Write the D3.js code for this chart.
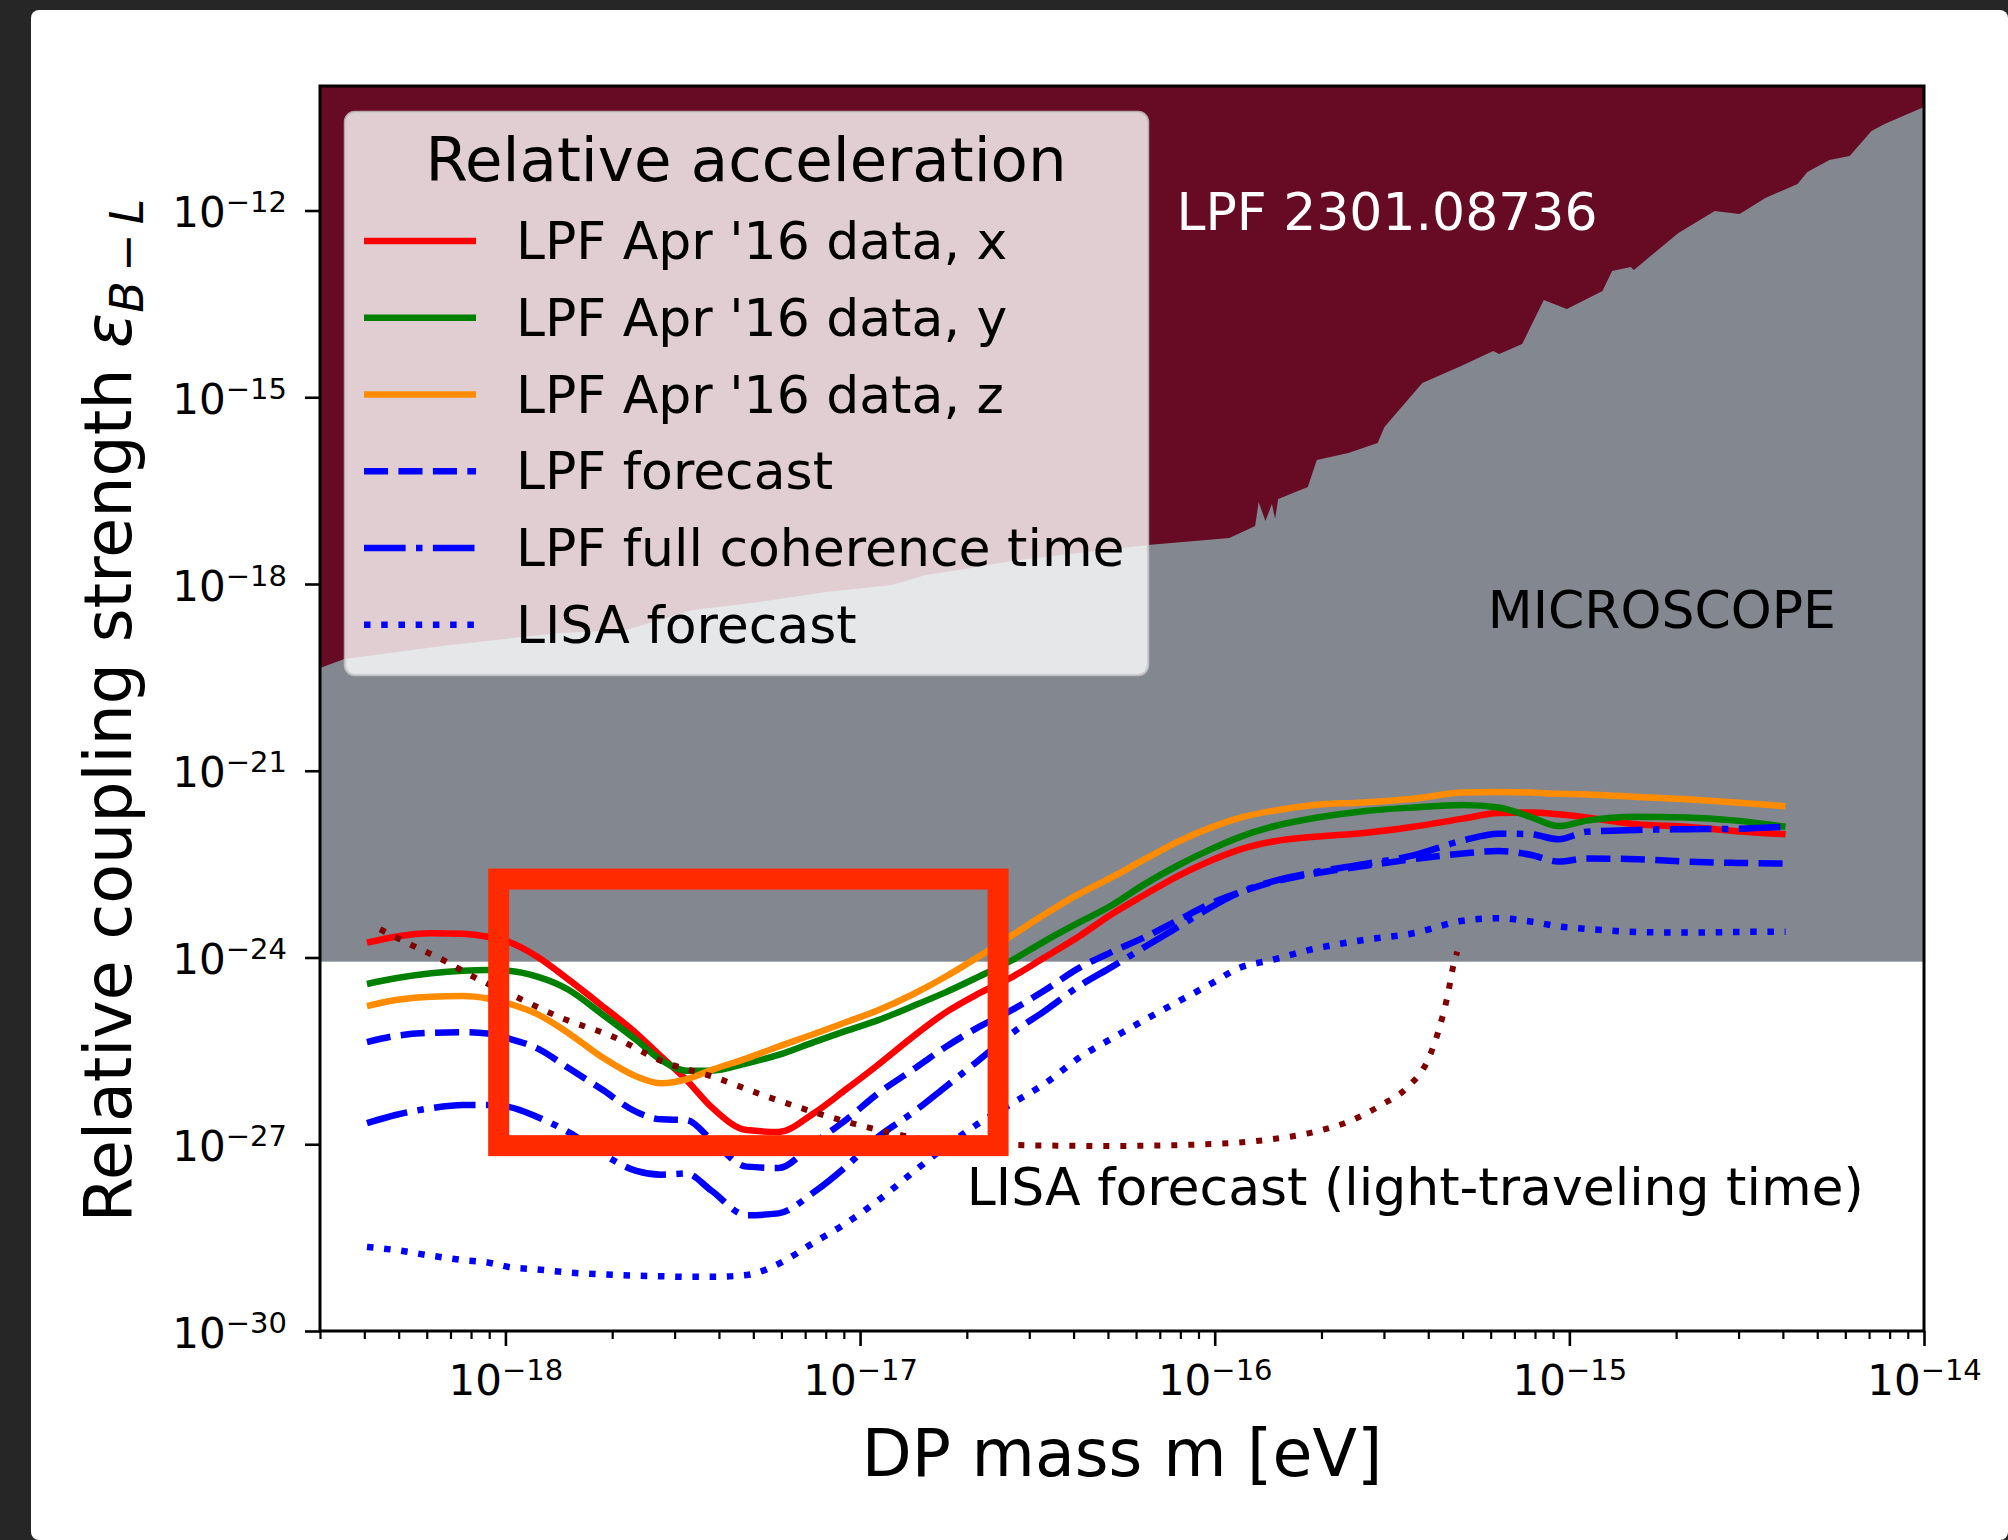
<!DOCTYPE html>
<html>
<head>
<meta charset="utf-8">
<script src="https://cdn.jsdelivr.net/npm/d3@7"></script>
<style>
body { margin: 0; background: #262626; }
text { font-family: "DejaVu Sans", sans-serif; }
</style>
</head>
<body>
<svg id="chart" width="2008" height="1540"></svg>
<script>
// mass grid shared by the LPF / LISA curves [eV]
var massGrid = [4.07e-19, 4.90e-19, 6.17e-19, 7.59e-19, 8.91e-19, 1.02e-18, 1.23e-18, 1.51e-18, 1.86e-18, 2.34e-18,
    2.75e-18, 3.24e-18, 3.80e-18, 4.79e-18, 5.89e-18, 7.41e-18, 9.12e-18, 1.12e-17, 1.41e-17, 1.74e-17,
    2.14e-17, 2.69e-17, 3.31e-17, 4.17e-17, 5.13e-17, 6.31e-17, 7.94e-17, 9.77e-17, 1.17e-16, 1.45e-16,
    1.91e-16, 2.63e-16, 3.63e-16, 5.01e-16, 6.31e-16, 7.76e-16, 9.33e-16, 1.12e-15, 1.55e-15, 2.14e-15,
    2.95e-15, 4.07e-15];

var lpfX = [1.73e-24, 2.16e-24, 2.45e-24, 2.40e-24, 2.16e-24, 1.79e-24, 1.03e-24, 4.36e-25, 1.73e-25, 6.05e-26,
    2.55e-26, 1.08e-26, 4.01e-27, 1.69e-27, 1.58e-27, 3.16e-27, 7.59e-27, 1.86e-26, 5.37e-26, 1.30e-25,
    2.57e-25, 4.90e-25, 1.0e-24, 2.24e-24, 5.01e-24, 1.0e-23, 2.09e-23, 3.63e-23, 5.37e-23, 7.24e-23,
    8.71e-23, 1.0e-22, 1.26e-22, 1.70e-22, 2.09e-22, 2.14e-22, 2.00e-22, 1.78e-22, 1.38e-22, 1.26e-22,
    1.07e-22, 9.55e-23];

var lpfY = [3.75e-25, 4.63e-25, 5.57e-25, 6.14e-25, 6.29e-25, 6.14e-25, 4.92e-25, 3.01e-25, 1.27e-25, 4.73e-26,
    2.25e-26, 1.52e-26, 1.52e-26, 2.0e-26, 2.72e-26, 4.37e-26, 6.61e-26, 9.77e-26, 1.66e-25, 2.75e-25,
    4.79e-25, 9.12e-25, 1.82e-24, 3.72e-24, 6.92e-24, 1.48e-23, 3.09e-23, 5.50e-23, 8.51e-23, 1.26e-22,
    1.74e-22, 2.24e-22, 2.57e-22, 2.82e-22, 2.57e-22, 1.82e-22, 1.29e-22, 1.58e-22, 1.82e-22, 1.78e-22,
    1.58e-22, 1.26e-22];

var lpfZ = [1.66e-25, 2.07e-25, 2.34e-25, 2.40e-25, 2.19e-25, 1.82e-25, 1.23e-25, 6.03e-26, 2.57e-26, 1.23e-26,
    9.55e-27, 1.10e-26, 1.55e-26, 2.40e-26, 3.72e-26, 5.89e-26, 9.12e-26, 1.41e-25, 2.57e-25, 4.90e-25,
    1.0e-24, 2.29e-24, 4.90e-24, 1.07e-23, 1.95e-23, 3.72e-23, 7.41e-23, 1.23e-22, 1.74e-22, 2.26e-22,
    2.82e-22, 3.09e-22, 3.55e-22, 4.47e-22, 4.57e-22, 4.47e-22, 4.27e-22, 4.17e-22, 3.80e-22, 3.47e-22,
    3.09e-22, 2.69e-22];

var lpfForecast = [4.37e-26, 5.50e-26, 6.17e-26, 6.31e-26, 6.03e-26, 5.01e-26, 3.47e-26, 1.66e-26, 7.76e-27, 3.31e-27,
    2.51e-27, 2.45e-27, 1.20e-27, 4.37e-28, 4.17e-28, 1.05e-27, 2.45e-27, 6.46e-27, 1.58e-26, 3.63e-26,
    7.41e-26, 1.45e-25, 2.95e-25, 6.92e-25, 1.23e-24, 2.09e-24, 4.07e-24, 7.41e-24, 1.10e-23, 1.62e-23,
    2.24e-23, 2.95e-23, 3.80e-23, 4.68e-23, 5.13e-23, 4.47e-23, 3.47e-23, 3.89e-23, 3.80e-23, 3.47e-23,
    3.31e-23, 3.24e-23];

var lpfCoherence = [2.19e-27, 2.95e-27, 3.80e-27, 4.27e-27, 4.27e-27, 3.98e-27, 2.75e-27, 1.55e-27, 7.24e-28, 3.72e-28,
    3.24e-28, 3.39e-28, 1.82e-28, 7.24e-29, 7.76e-29, 1.70e-28, 4.37e-28, 1.29e-27, 3.24e-27, 8.32e-27,
    2.14e-26, 6.17e-26, 1.38e-25, 3.55e-25, 7.08e-25, 1.45e-24, 3.16e-24, 6.46e-24, 1.10e-23, 1.66e-23,
    2.34e-23, 3.16e-23, 4.37e-23, 7.59e-23, 9.77e-23, 9.55e-23, 7.94e-23, 1.05e-22, 1.12e-22, 1.15e-22,
    1.17e-22, 1.26e-22];

var lisaForecast = [2.24e-29, 2.0e-29, 1.62e-29, 1.38e-29, 1.26e-29, 1.07e-29, 9.77e-30, 8.71e-30, 8.13e-30, 7.76e-30,
    7.59e-30, 7.41e-30, 7.41e-30, 7.94e-30, 1.20e-29, 2.63e-29, 5.37e-29, 1.23e-28, 3.55e-28, 9.12e-28,
    2.09e-27, 4.57e-27, 9.33e-27, 2.51e-26, 5.01e-26, 9.77e-26, 2.0e-25, 3.80e-25, 6.76e-25, 9.12e-25,
    1.38e-24, 1.91e-24, 2.45e-24, 3.89e-24, 4.27e-24, 3.80e-24, 3.16e-24, 2.88e-24, 2.57e-24, 2.51e-24,
    2.57e-24, 2.60e-24];

// LISA forecast, light-traveling time
var lisaLightMass = [4.43e-19, 5.43e-19, 6.67e-19, 8.11e-19, 1.07e-18, 1.45e-18, 2.01e-18, 2.78e-18, 3.84e-18, 5.31e-18,
    8.18e-18, 1.13e-17, 1.56e-17, 2.69e-17, 5.13e-17, 8.99e-17, 1.39e-16, 1.92e-16, 2.38e-16, 2.95e-16,
    3.51e-16, 3.99e-16, 4.31e-16, 4.55e-16, 4.70e-16, 4.83e-16];
var lisaLightEps = [2.84e-24, 1.59e-24, 9.12e-25, 4.92e-25, 2.34e-25, 1.05e-25, 5.35e-26, 2.12e-26, 1.22e-26, 6.18e-27,
    2.77e-27, 1.69e-27, 1.17e-27, 9.73e-28, 9.38e-28, 9.91e-28, 1.17e-27, 1.59e-27, 2.30e-27, 4.28e-27,
    8.41e-27, 2.25e-26, 7.73e-26, 2.66e-25, 7.11e-25, 1.24e-24];

// LPF 2301.08736 excluded region (lower edge)
var lpfBoundMass = [3.0e-19, 3.51e-19, 6.97e-19, 1.42e-18, 2.19e-18, 3.37e-18, 5.20e-18, 8.02e-18, 1.23e-17, 1.53e-17,
    1.90e-17, 2.80e-17, 6.47e-17, 1.10e-16, 1.30e-16, 1.33e-16, 1.39e-16, 1.45e-16, 1.48e-16, 1.51e-16,
    1.83e-16, 1.94e-16, 2.38e-16, 2.88e-16, 3.01e-16, 3.85e-16, 4.95e-16, 6.10e-16, 6.34e-16, 7.36e-16,
    8.47e-16, 9.84e-16, 1.24e-15, 1.32e-15, 1.49e-15, 1.52e-15, 2.03e-15, 2.57e-15, 3.02e-15, 3.57e-15,
    4.40e-15, 4.69e-15, 5.41e-15, 6.17e-15, 7.11e-15, 7.74e-15, 9.70e-15, 1.0e-14];
var lpfBoundEps = [4.48e-20, 6.24e-20, 1.05e-19, 1.63e-19, 1.82e-19, 3.82e-19, 5.14e-19, 7.45e-19, 9.64e-19, 1.40e-18,
    1.68e-18, 2.43e-18, 4.24e-18, 5.48e-18, 8.55e-18, 2.07e-17, 1.03e-17, 1.93e-17, 1.11e-17, 2.32e-17,
    3.61e-17, 9.82e-17, 1.27e-16, 1.84e-16, 3.33e-16, 1.69e-15, 3.18e-15, 5.53e-15, 4.95e-15, 7.16e-15,
    3.65e-14, 2.62e-14, 5.09e-14, 1.07e-13, 1.24e-13, 1.11e-13, 4.36e-13, 9.82e-13, 8.79e-13, 1.59e-12,
    2.67e-12, 4.15e-12, 6.47e-12, 7.50e-12, 1.89e-11, 2.45e-11, 4.28e-11, 4.6e-11];

// MICROSCOPE excludes everything above this
var microscopeFloor = 8.57e-25;

var xMajor = [1e-18, 1e-17, 1e-16, 1e-15, 1e-14];
var yMajor = [1e-30, 1e-27, 1e-24, 1e-21, 1e-18, 1e-15, 1e-12];

// red highlight box drawn over the figure [mass, eps]
var highlightBox = [[9.57e-19, 9.5e-28], [2.45e-17, 1.82e-23]];

var regionLabels = [
    {text: "LPF 2301.08736", m: 7.8e-17, eps: 4.86e-13, color: "#ffffff"},
    {text: "MICROSCOPE", m: 5.89e-16, eps: 1.96e-19, color: "#000000"},
    {text: "LISA forecast (light-traveling time)", m: 2.0e-17, eps: 1.06e-28, color: "#000000"}
];

var margin = {top: 86, left: 320};
var width = 1604, height = 1245;
var lw = 6.5;

var series = [
    {name: "LPF Apr '16 data, x", vals: lpfX, color: "#ff0000", dash: null},
    {name: "LPF Apr '16 data, y", vals: lpfY, color: "#008000", dash: null},
    {name: "LPF Apr '16 data, z", vals: lpfZ, color: "#ff8c00", dash: null},
    {name: "LPF forecast", vals: lpfForecast, color: "#0000ff", dash: [3.7 * lw, 1.6 * lw]},
    {name: "LPF full coherence time", vals: lpfCoherence, color: "#0000ff", dash: [6.4 * lw, 1.6 * lw, lw, 1.6 * lw]},
    {name: "LISA forecast", vals: lisaForecast, color: "#0000ff", dash: [lw, 1.65 * lw]}
];

var root = d3.select("#chart");
// slide backdrop + white figure
root.append("rect").attr("width", 2008).attr("height", 1540).attr("fill", "#262626");
root.append("rect").attr("x", 31).attr("y", 10).attr("width", 1977).attr("height", 1530)
    .attr("rx", 8).attr("fill", "#ffffff");

var svg = root.append("g")
    .attr("transform", "translate(" + margin.left + "," + margin.top + ")");

var x = d3.scaleLog().domain([3e-19, 1e-14]).range([0, width]);
var y = d3.scaleLog().domain([1e-30, 1e-10]).range([height, 0]);

svg.append("clipPath").attr("id", "plot-clip")
    .append("rect").attr("width", width).attr("height", height);
var plot = svg.append("g").attr("clip-path", "url(#plot-clip)");

// MICROSCOPE band
plot.append("rect")
    .attr("x", x(x.domain()[0]))
    .attr("width", x(x.domain()[1]) - x(x.domain()[0]))
    .attr("y", y(y.domain()[1]))
    .attr("height", y(microscopeFloor) - y(y.domain()[1]))
    .attr("fill", "#83878f");

// LPF 2301.08736 region
var lpfArea = d3.area()
    .x(function(d) { return x(d[0]); })
    .y0(y(y.domain()[1]))
    .y1(function(d) { return y(d[1]); });
plot.append("path")
    .datum(d3.zip(lpfBoundMass, lpfBoundEps))
    .attr("fill", "#670a23")
    .attr("d", lpfArea);

var line = d3.line()
    .x(function(d) { return x(d[0]); })
    .y(function(d) { return y(d[1]); })
    .curve(d3.curveMonotoneX);

series.forEach(function(s) {
    plot.append("path")
        .datum(d3.zip(massGrid, s.vals))
        .attr("fill", "none")
        .attr("stroke", s.color)
        .attr("stroke-width", lw)
        .attr("stroke-dasharray", s.dash ? s.dash.join(",") : null)
        .attr("d", line);
});

plot.append("path")
    .datum(d3.zip(lisaLightMass, lisaLightEps))
    .attr("fill", "none")
    .attr("stroke", "#800000")
    .attr("stroke-width", 6)
    .attr("stroke-dasharray", "6,11")
    .attr("d", line);

regionLabels.forEach(function(l) {
    svg.append("text")
        .attr("x", x(l.m))
        .attr("y", y(l.eps))
        .attr("fill", l.color)
        .style("font-size", "52px")
        .text(l.text);
});

// legend
var legend = svg.append("g").attr("transform", "translate(25,26)");
legend.append("rect")
    .attr("width", 803).attr("height", 563)
    .attr("rx", 10)
    .attr("fill", "#ffffff").attr("fill-opacity", 0.8)
    .attr("stroke", "#cccccc").attr("stroke-opacity", 0.8).attr("stroke-width", 2.5);
legend.append("text")
    .attr("x", 401).attr("y", 69)
    .attr("text-anchor", "middle")
    .style("font-size", "61px")
    .text("Relative acceleration");
series.forEach(function(s, i) {
    var ly = 129 + i * 76.75;
    legend.append("line")
        .attr("x1", 19).attr("x2", 131)
        .attr("y1", ly).attr("y2", ly)
        .attr("stroke", s.color)
        .attr("stroke-width", lw)
        .attr("stroke-dasharray", s.dash ? s.dash.join(",") : null);
    legend.append("text")
        .attr("x", 171).attr("y", ly + 18)
        .style("font-size", "52px")
        .text(s.name);
});

// frame
svg.append("rect")
    .attr("width", width).attr("height", height)
    .attr("fill", "none").attr("stroke", "#000").attr("stroke-width", 3);

function powLabel(sel) {
    sel.each(function(d) {
        var t = d3.select(this);
        var e = Math.round(Math.log10(d));
        t.text(null);
        t.append("tspan").text("10");
        t.append("tspan").attr("dy", -15).style("font-size", "29px")
            .text((e < 0 ? "\u2212" : "") + Math.abs(e));
    });
}

// x axis
var xMinor = [];
for (var dec = -19; dec <= -15; dec++) {
    for (var k = 2; k <= 9; k++) {
        var v = k * Math.pow(10, dec);
        if (v >= x.domain()[0] * 0.999 && v <= x.domain()[1]) xMinor.push(v);
    }
}
var gxMinor = svg.append("g")
    .attr("transform", "translate(0," + height + ")")
    .call(d3.axisBottom(x).tickValues(xMinor).tickSize(8).tickFormat(""));
gxMinor.select(".domain").remove();
gxMinor.selectAll(".tick line").attr("stroke", "#000").attr("stroke-width", 2.2);

var gx = svg.append("g")
    .attr("transform", "translate(0," + height + ")")
    .call(d3.axisBottom(x).tickValues(xMajor).tickSize(15));
gx.select(".domain").remove();
gx.selectAll(".tick line").attr("stroke", "#000").attr("stroke-width", 2.6);
gx.selectAll(".tick text")
    .attr("y", 64).attr("dy", null)
    .attr("fill", "#000")
    .style("font-family", "DejaVu Sans")
    .style("font-size", "42px")
    .call(powLabel);

// y axis
var gy = svg.append("g")
    .call(d3.axisLeft(y).tickValues(yMajor).tickSize(15));
gy.select(".domain").remove();
gy.selectAll(".tick line").attr("stroke", "#000").attr("stroke-width", 2.6);
gy.selectAll(".tick text")
    .attr("x", -33).attr("y", 16).attr("dy", null)
    .attr("fill", "#000")
    .style("font-family", "DejaVu Sans")
    .style("font-size", "42px")
    .call(powLabel);

// axis titles
svg.append("text")
    .attr("x", width / 2).attr("y", height + 145)
    .attr("text-anchor", "middle")
    .style("font-size", "65px")
    .text("DP mass m [eV]");

var yl = svg.append("text")
    .attr("transform", "translate(-189," + (height / 2 + 2) + ") rotate(-90)")
    .attr("text-anchor", "middle")
    .style("font-size", "65px");
yl.append("tspan").text("Relative coupling strength ");
yl.append("tspan").style("font-style", "italic").text("\u03b5");
yl.append("tspan").attr("dy", 12).style("font-size", "46px").style("font-style", "italic").text("B");
yl.append("tspan").style("font-size", "46px").text("\u2009\u2212\u2009");
yl.append("tspan").style("font-size", "46px").style("font-style", "italic").text("L");

// highlight box
svg.append("rect")
    .attr("x", x(highlightBox[0][0]))
    .attr("y", y(highlightBox[1][1]))
    .attr("width", x(highlightBox[1][0]) - x(highlightBox[0][0]))
    .attr("height", y(highlightBox[0][1]) - y(highlightBox[1][1]))
    .attr("fill", "none")
    .attr("stroke", "#ff2a00")
    .attr("stroke-width", 21);
</script>
</body>
</html>
